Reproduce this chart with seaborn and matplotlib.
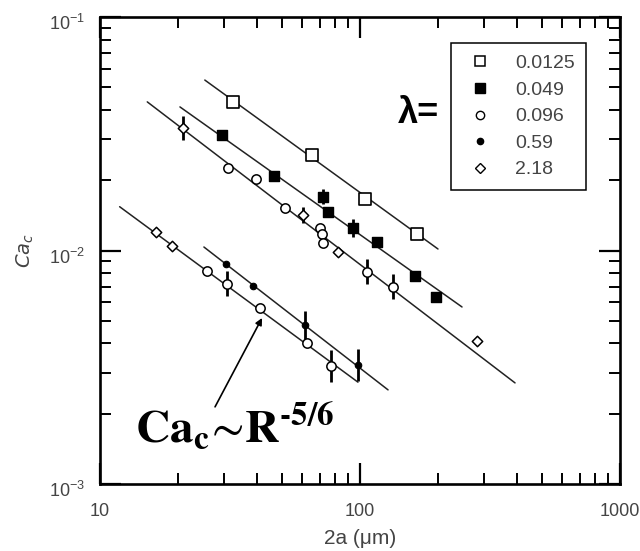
import matplotlib
matplotlib.use("Agg")
import matplotlib.pyplot as plt
import matplotlib.transforms as mtransforms
import numpy as np
import pandas as pd
import seaborn as sns
from matplotlib.lines import Line2D
from matplotlib import ticker

# Critical capillary number vs. drop diameter for several viscosity ratios
lam_labels = ["0.0125", "0.049", "0.096", "0.59", "2.18"]

sq_d = [32.5, 65.4, 104.5, 165.7]
sq_ca = [0.0433, 0.0256, 0.0166, 0.0118]
sq_err = [0, 0, 0, 0]

fsq_d = [29.4, 46.7, 72.0, 75.3, 94.0, 116.3, 162.8, 196.0]
fsq_ca = [0.0312, 0.0209, 0.0170, 0.0146, 0.0125, 0.0109, 0.0078, 0.0063]
fsq_err = [0, 0, 1.08, 0, 1.09, 0, 0, 0]

circ_d = [31.1, 39.8, 51.5, 70.2, 71.4, 72.0, 106.4, 133.9,
          25.8, 30.8, 41.2, 62.5, 77.3]
circ_ca = [0.0226, 0.0202, 0.0152, 0.0125, 0.0118, 0.0108, 0.0081, 0.0070,
           0.0082, 0.0072, 0.0057, 0.0040, 0.0032]
circ_err = [0, 0, 0, 0, 0, 0, 1.13, 1.13,
            0, 1.13, 0, 0, 1.17]

dot_d = [30.5, 38.8, 61.4, 98.2]
dot_ca = [0.00875, 0.00705, 0.0048, 0.00323]
dot_err = [0, 0, 1.15, 1.17]

dia_d = [20.9, 60.4, 82.3, 281.8, 16.4, 18.9]
dia_ca = [0.0335, 0.0142, 0.0099, 0.0041, 0.0120, 0.0105]
dia_err = [1.13, 1.08, 0, 0, 0, 0]

# Power-law guide lines (Ca_c ~ R^-5/6), given by their end points
fit_d0 = [25.3, 20.3, 15.2, 11.9, 25.1]
fit_d1 = [199.5, 246.8, 394.7, 98.2, 128.2]
fit_ca0 = [0.0537, 0.0412, 0.0433, 0.0154, 0.01035]
fit_ca1 = [0.01015, 0.00573, 0.00271, 0.00273, 0.00253]

x_ticks = [10, 100, 1000]
x_tick_labels = ["10", "100", "1000"]
y_ticks = [1e-3, 1e-2, 1e-1]
y_tick_labels = [r"$\mathdefault{10^{-3}}$", r"$\mathdefault{10^{-2}}$",
                 r"$\mathdefault{10^{-1}}$"]

sns.set_style("ticks")
plt.rcParams["font.family"] = ["Liberation Sans", "DejaVu Sans"]

fig = plt.figure(figsize=(6.4, 5.51), dpi=100)
ax = fig.add_axes([100 / 640, 67 / 551, 520 / 640, 467 / 551])
ax.set_xscale("log")
ax.set_yscale("log")

# guide lines
for d0, d1, c0, c1 in zip(fit_d0, fit_d1, fit_ca0, fit_ca1):
    sns.lineplot(x=[d0, d1], y=[c0, c1], ax=ax, color="#222222", lw=1.1,
                 zorder=1, legend=False)

styles = [
    (sq_d, sq_ca, sq_err, dict(marker="s", s=70, color="white", edgecolor="black", linewidth=1.2)),
    (fsq_d, fsq_ca, fsq_err, dict(marker="s", s=62, color="black", edgecolor="black", linewidth=1.0)),
    (circ_d, circ_ca, circ_err, dict(marker="o", s=45, color="white", edgecolor="black", linewidth=1.1)),
    (dot_d, dot_ca, dot_err, dict(marker="o", s=22, color="black", edgecolor="black", linewidth=0.8)),
    (dia_d, dia_ca, dia_err, dict(marker="D", s=28, color="white", edgecolor="black", linewidth=1.1)),
]

for d, ca, err, kw in styles:
    d = np.asarray(d)
    ca = np.asarray(ca)
    err = np.asarray(err, dtype=float)
    has = err > 0
    if has.any():
        lo = ca[has] - ca[has] / err[has]
        hi = ca[has] * err[has] - ca[has]
        ax.errorbar(d[has], ca[has], yerr=[lo, hi], fmt="none",
                    ecolor="black", elinewidth=2.0, capsize=0, zorder=2)
    df = pd.DataFrame({"d": d, "ca": ca})
    sns.scatterplot(data=df, x="d", y="ca", ax=ax, zorder=3, legend=False, **kw)

ax.set_xlim(10, 1000)
ax.set_ylim(1e-3, 1e-1)
ax.set_xticks(x_ticks)
ax.set_xticklabels(x_tick_labels)
ax.set_yticks(y_ticks)
ax.set_yticklabels(y_tick_labels)
ax.xaxis.set_minor_locator(ticker.LogLocator(base=10, subs=np.arange(2, 10)))
ax.yaxis.set_minor_locator(ticker.LogLocator(base=10, subs=np.arange(2, 10)))
ax.xaxis.set_minor_formatter(ticker.NullFormatter())
ax.yaxis.set_minor_formatter(ticker.NullFormatter())

ax.tick_params(which="both", direction="in", top=True, right=True,
               color="black", labelcolor="#444444")
ax.tick_params(which="major", length=15, width=1.6, labelsize=13)
ax.tick_params(axis="x", which="major", pad=14)
ax.tick_params(axis="y", which="major", pad=11)
ax.tick_params(which="minor", length=8, width=1.4)
for sp in ax.spines.values():
    sp.set_linewidth(1.9)
    sp.set_color("black")

# y tick labels sit a little below their ticks
shift = mtransforms.ScaledTranslation(0, -5 / 100, fig.dpi_scale_trans)
for lab in ax.get_yticklabels():
    lab.set_transform(lab.get_transform() + shift)

ax.set_xlabel("2a (μm)", fontsize=15, color="#444444", labelpad=6)
ax.set_ylabel(r"$Ca_c$", fontsize=14, color="#444444", labelpad=9,
              math_fontfamily="dejavusans")

# legend
handles = [
    Line2D([], [], ls="none", marker="s", markersize=7, markerfacecolor="white", markeredgecolor="black", markeredgewidth=1.1),
    Line2D([], [], ls="none", marker="s", markersize=7, markerfacecolor="black", markeredgecolor="black"),
    Line2D([], [], ls="none", marker="o", markersize=6, markerfacecolor="white", markeredgecolor="black", markeredgewidth=1.0),
    Line2D([], [], ls="none", marker="o", markersize=4.5, markerfacecolor="black", markeredgecolor="black"),
    Line2D([], [], ls="none", marker="D", markersize=5.5, markerfacecolor="white", markeredgecolor="black", markeredgewidth=1.0),
]
leg = ax.legend(handles, lam_labels, loc="upper left",
                bbox_to_anchor=(0.675, 0.944), borderaxespad=0,
                frameon=True, fancybox=False, framealpha=1,
                edgecolor="black", fontsize=14, labelspacing=0.46,
                borderpad=0.59, handlelength=1.8, handletextpad=0.9)
leg.get_frame().set_linewidth(1.1)
for t in leg.get_texts():
    t.set_color("#444444")

ax.text(0.6115, 0.794, "λ=", transform=ax.transAxes, ha="center",
        va="center", fontsize=26, fontweight="bold", color="black")

# scaling annotation
ax.annotate("", xy=(42.0, 0.00514), xytext=(27.7, 0.00214),
            arrowprops=dict(arrowstyle="-|>", color="black", lw=1.2,
                            mutation_scale=10, shrinkA=0, shrinkB=0))
ax.text(13.6, 0.0015,
        r"$\mathbf{Ca}_{\mathbf{c}}\!\sim\!\mathbf{R}^{\mathbf{‐5/6}}$",
        fontsize=34, color="black", ha="left", va="baseline",
        math_fontfamily="stix")

fig.savefig("out.png", dpi=100)
